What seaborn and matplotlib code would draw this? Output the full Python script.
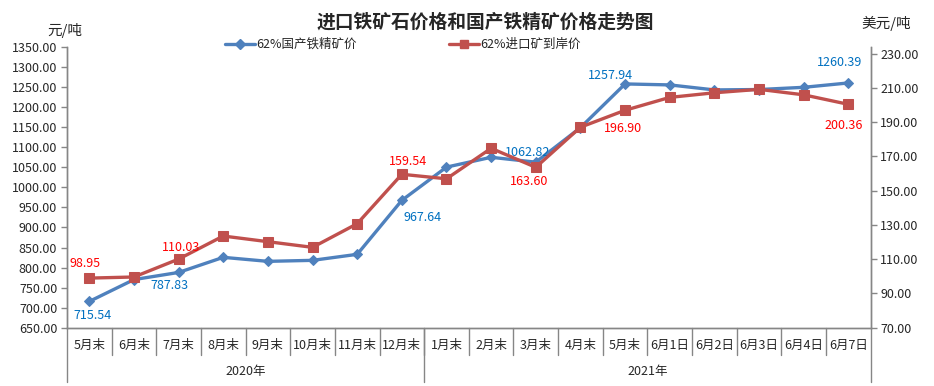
"""进口铁矿石价格和国产铁精矿价格走势图"""

import numpy as np
import pandas as pd
import matplotlib.pyplot as plt
import matplotlib.transforms as mtransforms
from matplotlib.lines import Line2D
import seaborn as sns

kategorije = ["5月末", "6月末", "7月末", "8月末", "9月末", "10月末", "11月末", "12月末",
              "1月末", "2月末", "3月末", "4月末", "5月末", "6月1日", "6月2日", "6月3日",
              "6月4日", "6月7日"]
godine = ["2020年", "2021年"]
godine_broj = [8, 10]

domaci = [715.54, 770.0, 787.83, 825.5, 815.5, 818.0, 833.0, 967.64, 1050.5,
          1075.0, 1062.82, 1149.0, 1257.94, 1255.5, 1243.0, 1244.0, 1249.5, 1260.39]
uvoz = [98.95, 99.6, 110.03, 123.5, 120.2, 116.9, 130.7, 159.54, 156.9,
        174.7, 163.60, 187.0, 196.90, 204.4, 207.1, 209.1, 205.9, 200.36]

# koje tacke dobijaju oznaku vrijednosti i pomak (u pikselima)
oznake_domaci = {0: (3, -14), 2: (-9, -13), 7: (21, -17), 10: (-8, 10), 12: (-15, 8), 17: (-9, 20)}
oznake_uvoz = {0: (-4, 15), 2: (3, 12), 7: (6, 13), 10: (-7, -14), 12: (-2, -18), 17: (-5, -21)}

PLAVA = "#4F81BD"
CRVENA = "#C0504D"
SIVA = "#868686"
FS = 9

sns.set_style("white")
plt.rcParams["font.family"] = ["Noto Sans CJK SC", "DejaVu Sans"]

df = pd.DataFrame({"idx": np.arange(len(kategorije)), "domaci": domaci, "uvoz": uvoz})

fig = plt.figure(figsize=(9.34, 3.86), dpi=100)
ax = fig.add_axes([0.0717, 0.151, 0.8605, 0.7272])
ax2 = ax.twinx()

sns.lineplot(data=df, x="idx", y="domaci", ax=ax, color=PLAVA, linewidth=2.4,
             marker="D", markersize=5.5, markeredgecolor=PLAVA)
sns.lineplot(data=df, x="idx", y="uvoz", ax=ax2, color=CRVENA, linewidth=2.4,
             marker="s", markersize=7, markeredgecolor=CRVENA)

ax.set_xlim(-0.5, len(kategorije) - 0.5)
ax.set_ylim(650, 1350)
ax.set_yticks(np.arange(650, 1351, 50))
ax.set_yticklabels([f"{v:.2f}" for v in np.arange(650, 1351, 50)], fontsize=FS)
ax2.set_ylim(70, 233.8)
ax2.set_yticks(np.arange(70, 231, 20))
ax2.set_yticklabels([f"{v:.2f}" for v in np.arange(70, 231, 20)], fontsize=FS)
ax.set_xticks([])
ax.set_xlabel("")
ax.set_ylabel("")
ax2.set_ylabel("")

for a in (ax, ax2):
    a.spines["top"].set_visible(False)
    for s in ("left", "right", "bottom"):
        a.spines[s].set_color(SIVA)
        a.spines[s].set_linewidth(1)
    a.tick_params(axis="y", length=4, width=1, color=SIVA, pad=3)
    a.grid(False)

for i, (dx, dy) in oznake_domaci.items():
    ax.annotate(f"{domaci[i]:.2f}", (i, domaci[i]), xytext=(dx, dy), textcoords="offset pixels",
                ha="center", va="center", fontsize=FS, color="#0070C0")
for i, (dx, dy) in oznake_uvoz.items():
    ax2.annotate(f"{uvoz[i]:.2f}", (i, uvoz[i]), xytext=(dx, dy), textcoords="offset pixels",
                 ha="center", va="center", fontsize=FS, color="#FF0000")

# dvonivovska x osa: mjeseci + godine
trans = mtransforms.blended_transform_factory(ax.transData, ax.transAxes)
for i, k in enumerate(kategorije):
    ax.text(i, -0.062, k, transform=trans, ha="center", va="center", fontsize=FS)
for i in range(1, len(kategorije)):
    ax.plot([i - 0.5, i - 0.5], [0, -0.097], transform=trans, color=SIVA, lw=1, clip_on=False)
granice = np.concatenate([[0], np.cumsum(godine_broj)]) - 0.5
for g in granice:
    ax.plot([g, g], [0, -0.192], transform=trans, color=SIVA, lw=1, clip_on=False)
for g, (a_, b_) in zip(godine, zip(granice[:-1], granice[1:])):
    ax.text((a_ + b_) / 2, -0.157, g, transform=trans, ha="center", va="center", fontsize=FS)

fig.text(0.52, 0.943, "进口铁矿石价格和国产铁精矿价格走势图", ha="center", va="center",
         fontsize=13.5, fontweight="bold")
fig.text(0.069, 0.922, "元/吨", ha="center", va="center", fontsize=10.5)
fig.text(0.949, 0.940, "美元/吨", ha="center", va="center", fontsize=10.5)

rucke = [Line2D([], [], color=PLAVA, lw=2.4, marker="D", markersize=5),
         Line2D([], [], color=CRVENA, lw=2.4, marker="s", markersize=6)]
fig.legend(rucke, ["62%国产铁精矿价", "62%进口矿到岸价"], loc="center", ncol=2,
           bbox_to_anchor=(0.431, 0.885), frameon=False, fontsize=FS,
           handlelength=2.4, columnspacing=7.4, handletextpad=0.1)

plt.savefig("out.png", dpi=100)
plt.close()
